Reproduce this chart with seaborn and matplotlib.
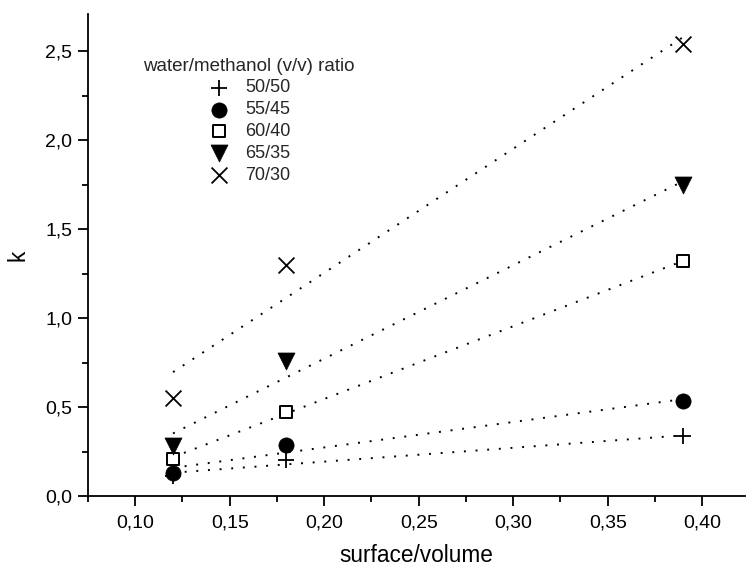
import numpy as np
import pandas as pd
import matplotlib
matplotlib.use("Agg")
import matplotlib.pyplot as plt
import seaborn as sns

# ---- data ----
x_vals = [0.12, 0.18, 0.39]
ratios = ["50/50", "55/45", "60/40", "65/35", "70/30"]
k_50_50 = [0.11, 0.205, 0.335]
k_55_45 = [0.127, 0.285, 0.536]
k_60_40 = [0.21, 0.475, 1.32]
k_65_35 = [0.28, 0.76, 1.75]
k_70_30 = [0.553, 1.30, 2.54]
series = [k_50_50, k_55_45, k_60_40, k_65_35, k_70_30]

x_ticks = [0.10, 0.15, 0.20, 0.25, 0.30, 0.35, 0.40]
y_ticks = [0.0, 0.5, 1.0, 1.5, 2.0, 2.5]

sns.set_theme(style="ticks")
plt.rcParams["font.family"] = ["Liberation Sans", "DejaVu Sans"]

fig = plt.figure(figsize=(7.47, 5.70), dpi=100)
ax = fig.add_axes([0.1178, 0.1298, 0.8792, 0.8456])

marker_styles = [
    dict(marker="+", s=130, color="black", linewidth=1.3),
    dict(marker="o", s=120, color="black", edgecolor="black", linewidth=0.5),
    dict(marker="s", s=65, facecolor="white", edgecolor="black", linewidth=1.4),
    dict(marker="v", s=150, color="black", edgecolor="black", linewidth=0.5),
    dict(marker="x", s=130, color="black", linewidth=1.3),
]

for lab, ys, ms in zip(ratios, series, marker_styles):
    df = pd.DataFrame({"sv": x_vals, "k": ys})
    sns.regplot(data=df, x="sv", y="k", ax=ax, scatter=False, ci=None,
                truncate=True,
                line_kws=dict(color="black", linewidth=1.4,
                              linestyle=(0, (1, 5)), zorder=1))
    sns.scatterplot(data=df, x="sv", y="k", ax=ax, label=lab, zorder=3, **ms)

ax.set_xlim(0.075, 0.4225)
ax.set_ylim(0.0, 2.71)
ax.set_xticks(x_ticks)
ax.set_xticklabels([f"{v:.2f}".replace(".", ",") for v in x_ticks])
ax.set_yticks(y_ticks)
ax.set_yticklabels([f"{v:.1f}".replace(".", ",") for v in y_ticks])
ax.set_xticks(np.arange(0.075, 0.42, 0.025), minor=True)
ax.set_yticks(np.arange(0.25, 2.7, 0.5), minor=True)

ax.tick_params(axis="both", which="major", length=7.5, width=1.3,
               labelsize=14, color="black", labelcolor="black", direction="out")
ax.tick_params(axis="both", which="minor", length=4, width=1.3,
               color="black", direction="out")
ax.tick_params(axis="x", pad=6)
ax.tick_params(axis="y", pad=4)

for side in ["top", "right"]:
    ax.spines[side].set_visible(False)
for side in ["left", "bottom"]:
    ax.spines[side].set_color("black")
    ax.spines[side].set_linewidth(1.3)

ax.set_xlabel("surface/volume", fontsize=16.3, labelpad=9, color="black")
ax.set_ylabel("k", fontsize=16.3, labelpad=11, color="black")

leg = ax.legend(title="water/methanol (v/v) ratio", loc="upper left",
                bbox_to_anchor=(0.064, 0.936), frameon=False,
                fontsize=13, title_fontsize=13.5, labelspacing=0.27,
                handletextpad=0.75, handlelength=1.4, borderpad=0.2)

fig.savefig("out.png", dpi=100)
